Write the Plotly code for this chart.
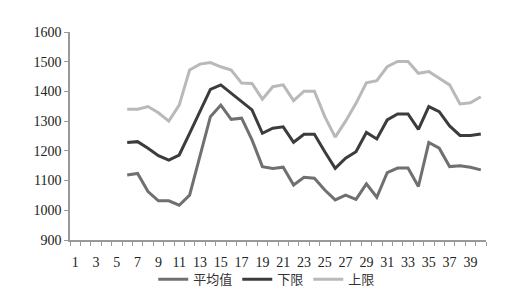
import plotly.graph_objects as go

days = list(range(6, 41))
mean_vals = [1119, 1124, 1063, 1032, 1032, 1017, 1051, 1180, 1315, 1354, 1306, 1310,
             1237, 1147, 1141, 1145, 1085, 1111, 1108, 1068, 1035, 1051, 1037, 1089,
             1044, 1127, 1142, 1142, 1080, 1228, 1209, 1147, 1150, 1145, 1136]
lower_vals = [1228, 1231, 1209, 1184, 1169, 1186, 1259, 1334, 1407, 1422, 1394, 1368,
              1338, 1259, 1276, 1281, 1229, 1256, 1256, 1197, 1141, 1175, 1197, 1262,
              1240, 1304, 1324, 1324, 1272, 1349, 1332, 1284, 1252, 1252, 1257]
upper_vals = [1340, 1340, 1349, 1328, 1300, 1354, 1472, 1492, 1497, 1483, 1472, 1428,
              1427, 1374, 1416, 1422, 1369, 1401, 1401, 1315, 1246, 1300, 1360, 1429,
              1436, 1483, 1501, 1501, 1461, 1467, 1444, 1422, 1358, 1362, 1382]
names = ["平均值", "下限", "上限"]
colors = ["#707070", "#3c3c3c", "#b9b9b9"]
x_labels = list(range(1, 40, 2))
y_ticks = list(range(900, 1601, 100))

fig = go.Figure()
for nm, vals, c in zip(names, [mean_vals, lower_vals, upper_vals], colors):
    fig.add_trace(go.Scatter(x=days, y=vals, mode="lines", name=nm,
                             line=dict(color=c, width=3)))

# dummy trace on label axis
fig.add_trace(go.Scatter(x=[1], y=[None], xaxis="x2", showlegend=False, hoverinfo="skip"))

font = dict(family="Liberation Serif, Noto Sans CJK SC", size=14, color="#222222")
fig.update_layout(
    width=521, height=291,
    margin=dict(l=70, r=35, t=32, b=51, autoexpand=False),
    paper_bgcolor="white", plot_bgcolor="white",
    font=font,
    showlegend=True,
    legend=dict(orientation="h", xref="container", yref="container",
                x=0.512, xanchor="center", y=0.04, yanchor="middle",
                font=dict(family="Noto Sans CJK SC", size=13, color="#333333"),
                bgcolor="rgba(0,0,0,0)", itemwidth=30, tracegroupgap=0),
    xaxis=dict(range=[0.5, 40.5], tickvals=[i + 0.5 for i in range(0, 41)],
               ticktext=[""] * 41, ticks="outside", ticklen=4, tickcolor="#999999",
               showline=True, linecolor="#999999", linewidth=1.5, showgrid=False,
               zeroline=False, automargin=False),
    xaxis2=dict(range=[0.5, 40.5], overlaying="x", side="bottom", tickvals=x_labels,
                ticktext=[str(v) for v in x_labels], ticks="outside", ticklen=9,
                tickcolor="rgba(0,0,0,0)", showline=False,
                showgrid=False, zeroline=False, tickfont=font, automargin=False),
    yaxis=dict(range=[900, 1600], tickvals=y_ticks, ticks="outside", ticklen=4,
               tickcolor="#999999", showline=True, linecolor="#999999", linewidth=1.5,
               showgrid=False, zeroline=False, tickfont=font, automargin=False),
)

fig.write_html("out.html")
